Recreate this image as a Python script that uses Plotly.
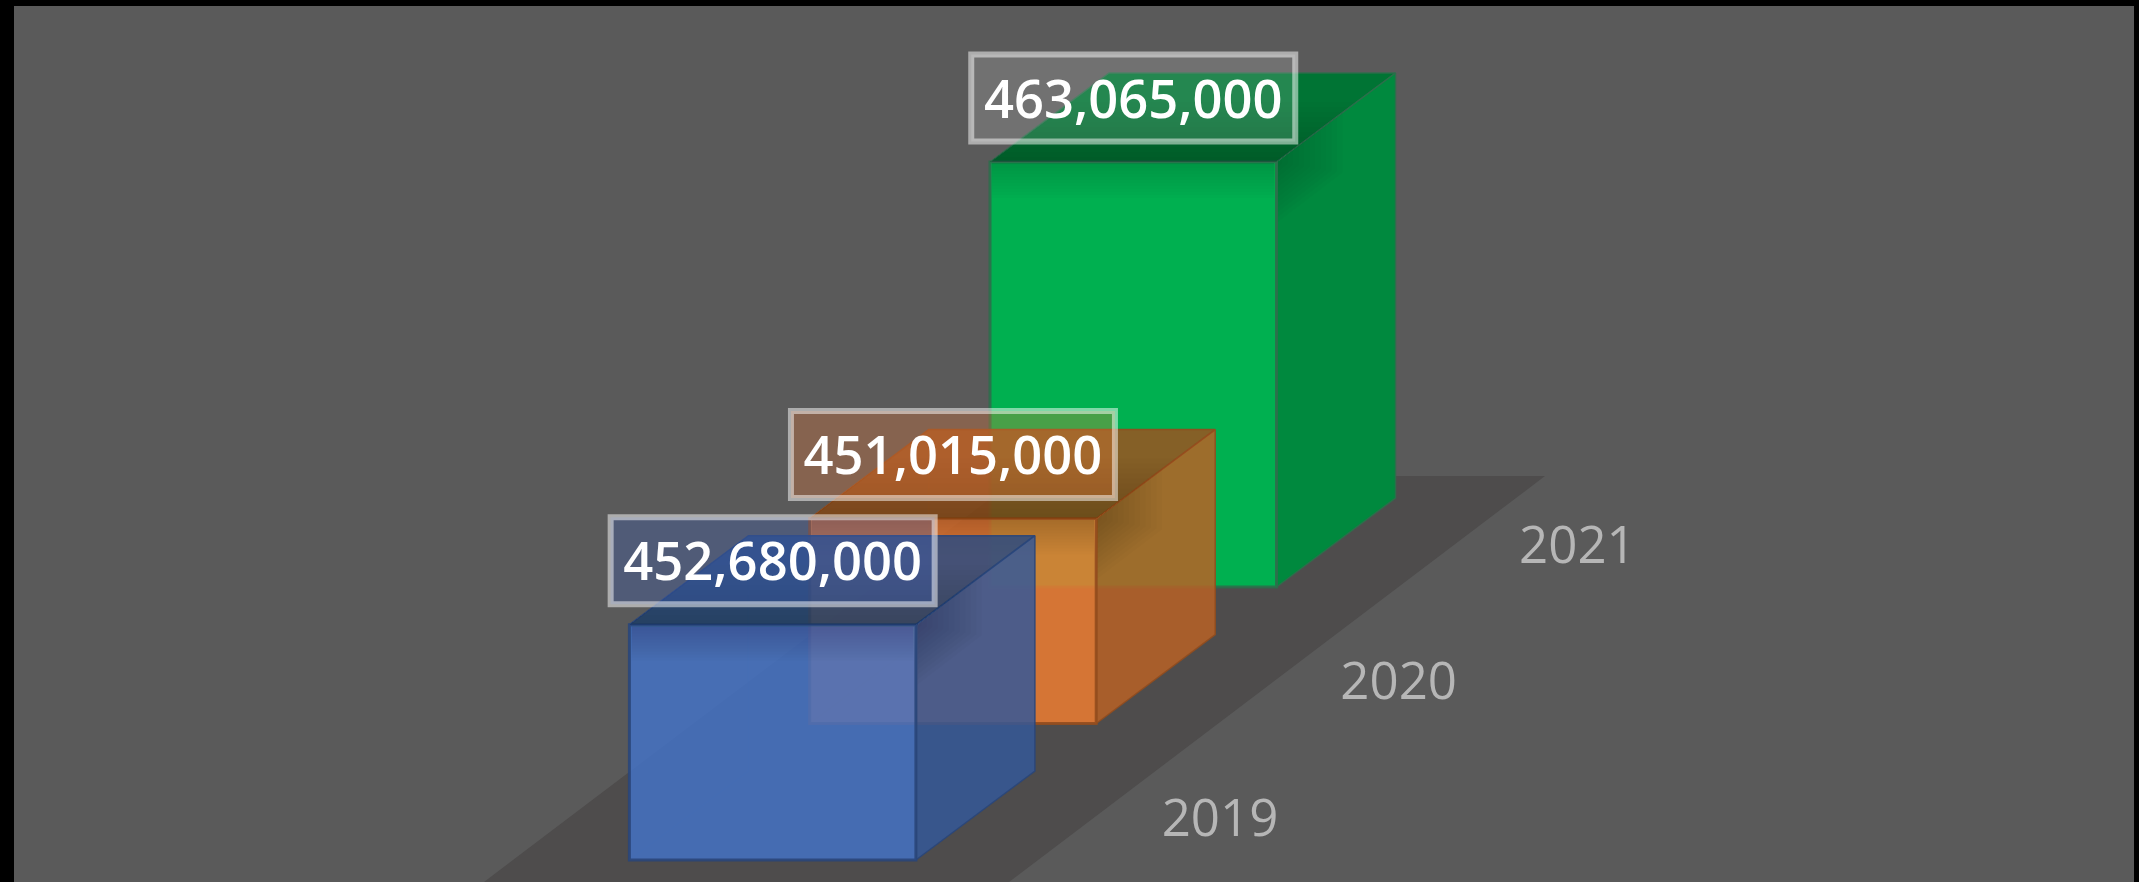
import plotly.graph_objects as go

years = ["2019", "2020", "2021"]
values_m = [452.68, 451.015, 463.065]
value_labels = ["452,680,000", "451,015,000", "463,065,000"]

RGB = [(68, 114, 196), (237, 125, 49), (0, 176, 80)]
ALPHA = [0.85, 0.85, 1.0]
BOX_FILL = ["rgba(58,97,190,0.3)", "rgba(240,123,57,0.3)", "rgba(255,255,255,0.14)"]

W, H = 2139, 882
L, R, T = 14, 5, 6
PX = 18.26           # pixels per million on the value axis
V0 = 439.79          # value axis floor
X0, BASE_PX = 629.4, 860
STEP_X, STEP_Y = 180.3, 136.5
BAR_W, DX, DY = 286.5, 119, 89
BOX_W, BOX_H = 324, 87
N_SHADE = 12


def val(px_up):
    return px_up / PX


def rgba(c, a, f=1.0):
    return f"rgba({int(c[0]*f)},{int(c[1]*f)},{int(c[2]*f)},{a})"


fig = go.Figure()


def poly(xs, ys, fill, line="rgba(0,0,0,0)", width=0):
    fig.add_trace(go.Scatter(
        x=list(xs) + [xs[0], xs[1]], y=list(ys) + [ys[0], ys[1]], mode="lines", fill="toself",
        fillcolor=fill, line=dict(color=line, width=width), hoverinfo="skip", showlegend=False))


def seg(xs, ys, color, width):
    fig.add_trace(go.Scatter(x=xs, y=ys, mode="lines", line=dict(color=color, width=width),
                             hoverinfo="skip", showlegend=False))


# floor
poly([484, 1020, 1545, 1009],
     [V0 + val(-22), V0 + val(384), V0 + val(384), V0 + val(-22)], "#4e4c4c")

# bars, back to front
for i in [2, 1, 0]:
    c, a = RGB[i], ALPHA[i]
    x1 = X0 + i * STEP_X
    x2 = x1 + BAR_W
    lift = val(i * STEP_Y)
    y0 = V0 + lift
    y1 = values_m[i] + lift
    d = val(DY)
    edge = rgba(c, 0.9, 0.62) if i < 2 else "rgba(45,110,75,0.9)"
    # hidden back edges seen through the translucent bar
    if a < 1:
        seg([x1, x1 + DX, x1 + DX], [y0, y0 + d, y1 + d], rgba(c, 0.2, 0.6), 1.5)
    # top
    poly([x1, x2, x2 + DX, x1 + DX], [y1, y1, y1 + d, y1 + d], rgba(c, a, 0.66), edge, 1.5)
    # side
    poly([x2, x2 + DX, x2 + DX, x2], [y0, y0 + d, y1 + d, y1], rgba(c, a, 0.78), edge, 1.5)
    # front
    poly([x1, x2, x2, x1], [y0, y0, y1, y1], rgba(c, a), edge, 3)
    # soft shading under the top edge and on the side's upper corner
    for k in range(1, N_SHADE + 1):
        h = val(k * 3)
        poly([x1 + 2, x2 - 2, x2 - 2, x1 + 2], [y1 - h, y1 - h, y1 - val(1.5), y1 - val(1.5)],
             "rgba(0,0,0,0.012)")
        w = k * 5.5
        hs = val(k * 5)
        s = d * w / DX
        poly([x2 + 1.5, x2 + w, x2 + w, x2 + 1.5], [y1, y1 + s, y1 + s - hs, y1 - hs],
             "rgba(0,0,0,0.016)")
    # top-face shade toward the front edge
    for k in range(1, N_SHADE + 1):
        t = k * 5
        poly([x1, x2, x2 + t * DX / DY, x1 + t * DX / DY],
             [y1, y1, y1 + val(t), y1 + val(t)], "rgba(0,0,0,0.01)")

# year labels
fig.add_trace(go.Scatter(
    x=[X0 + i * STEP_X + 590.6 - i * 1.6 for i in range(3)],
    y=[V0 + val(i * STEP_Y + 37) for i in range(3)],
    text=years, mode="text", textposition="middle center",
    textfont=dict(family="Open Sans", size=51, color="#b6b6b6", weight=400),
    hoverinfo="skip", showlegend=False))

# value label boxes
for i in range(3):
    cx = X0 + i * STEP_X + BAR_W / 2
    cy = values_m[i] + val(i * STEP_Y + 64)
    hw, hh = BOX_W / 2, val(BOX_H / 2)
    poly([cx - hw, cx + hw, cx + hw, cx - hw], [cy - hh, cy - hh, cy + hh, cy + hh],
         BOX_FILL[i], "rgba(255,255,255,0.5)", 6)

fig.add_trace(go.Scatter(
    x=[X0 + i * STEP_X + BAR_W / 2 for i in range(3)],
    y=[values_m[i] + val(i * STEP_Y + 57.5) for i in range(3)],
    text=value_labels, mode="text", textposition="middle center",
    textfont=dict(family="Open Sans", size=52.5, color="#ffffff", weight=600),
    hoverinfo="skip", showlegend=False))

fig.update_layout(
    width=W, height=H, autosize=False,
    margin=dict(l=L, r=R, t=T, b=0, pad=0),
    paper_bgcolor="#000000", plot_bgcolor="#5a5a5a",
    showlegend=False,
    xaxis=dict(range=[L, W - R], visible=False, fixedrange=True),
    yaxis=dict(range=[V0 + val(-22), V0 + val(BASE_PX - T)], visible=False, fixedrange=True),
)
fig.write_html("out.html", config={"displayModeBar": False},
               post_script="document.body.style.margin='0';document.body.style.overflow='hidden';")
